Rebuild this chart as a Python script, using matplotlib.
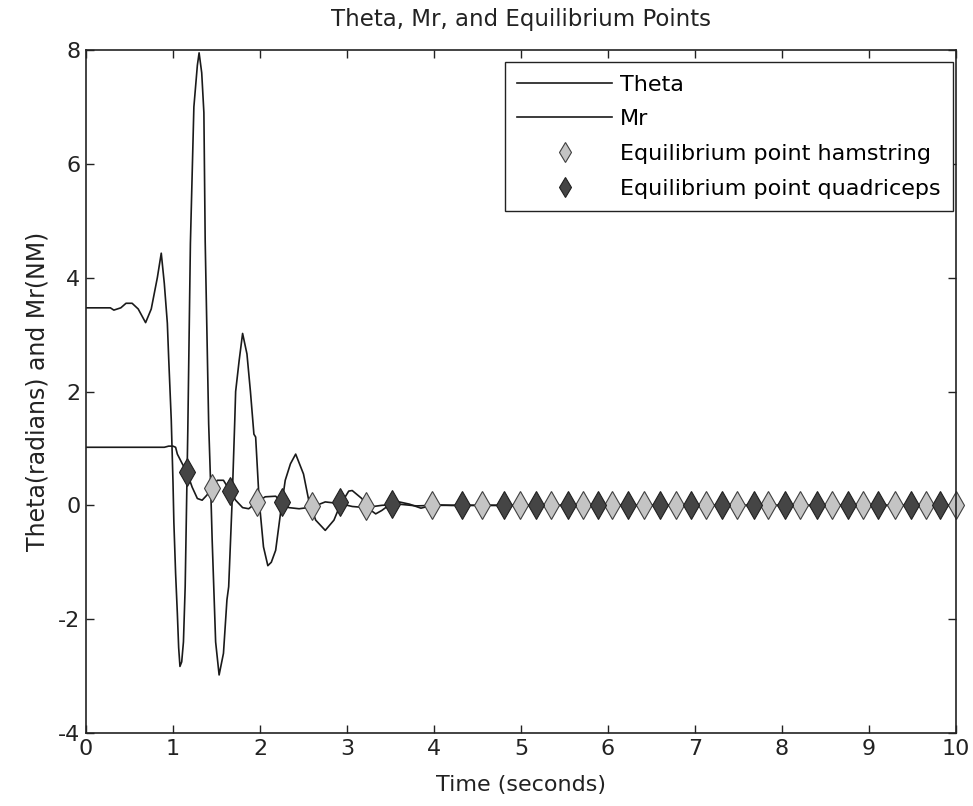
import numpy as np
import matplotlib
matplotlib.use("Agg")
import matplotlib.pyplot as plt

plt.rcParams['font.family'] = ['DejaVu Sans']
plt.rcParams['axes.unicode_minus'] = False

# Theta (radians)
thetaTime = [0, 0.90, 0.95, 1.00, 1.03, 1.05, 1.10, 1.16, 1.22, 1.28, 1.335, 1.39, 1.45,
             1.51, 1.58, 1.64, 1.72, 1.80, 1.87, 1.97, 2.06, 2.18, 2.25, 2.33, 2.45,
             2.60, 2.75, 2.92, 3.06, 3.21, 3.40, 3.60, 3.80, 4.00, 4.50, 10.0]
thetaVals = [1.02, 1.02, 1.04, 1.04, 1.02, 0.90, 0.75, 0.58, 0.32, 0.12, 0.09, 0.18, 0.32,
             0.44, 0.44, 0.29, 0.09, -0.04, -0.06, 0.06, 0.15, 0.16, 0.06, -0.04, -0.06,
             -0.03, 0.06, 0.03, -0.02, -0.04, 0.00, 0.02, -0.01, 0.00, 0.00, 0.00]

# Mr (NM)
mrTime = [0, 0.28, 0.32, 0.40, 0.46, 0.53, 0.60, 0.685, 0.75, 0.82, 0.865, 0.90, 0.935,
          0.95, 0.98, 1.00, 1.01, 1.03, 1.05, 1.065, 1.08, 1.10, 1.12, 1.14, 1.17, 1.20,
          1.24, 1.28, 1.30, 1.33, 1.355, 1.37, 1.41, 1.43, 1.45, 1.49, 1.53, 1.58, 1.62,
          1.64, 1.68, 1.71, 1.72, 1.76, 1.80, 1.85, 1.89, 1.93, 1.95, 1.99, 2.04, 2.09,
          2.13, 2.18, 2.24, 2.29, 2.35, 2.41, 2.50, 2.56, 2.64, 2.75, 2.85, 2.92, 3.02,
          3.06, 3.17, 3.25, 3.33, 3.40, 3.48, 3.60, 3.72, 3.85, 4.00, 4.20, 10.0]
mrVals = [3.47, 3.47, 3.43, 3.47, 3.55, 3.55, 3.45, 3.21, 3.45, 4.00, 4.43, 3.90, 3.20,
          2.60, 1.50, 0.40, -0.30, -1.20, -1.90, -2.50, -2.83, -2.75, -2.40, -1.43, 1.30, 4.60,
          7.00, 7.73, 7.95, 7.60, 6.90, 4.64, 1.43, 0.49, -0.60, -2.40, -2.98, -2.60, -1.66,
          -1.43, 0.09, 1.49, 2.00, 2.54, 3.02, 2.66, 2.00, 1.25, 1.20, 0.09, -0.73, -1.06,
          -1.00, -0.79, -0.09, 0.44, 0.73, 0.90, 0.55, 0.09, -0.26, -0.44, -0.26, 0.00, 0.25,
          0.26, 0.12, -0.06, -0.15, -0.09, 0.00, 0.06, 0.02, -0.05, 0.01, 0.00, 0.00]

# equilibrium points
hamTime = [1.45, 1.97, 2.60, 3.22, 3.98, 4.55, 4.99, 5.35, 5.71, 6.05, 6.41, 6.78, 7.13,
           7.48, 7.84, 8.21, 8.57, 8.93, 9.30, 9.66, 10.0]
hamVals = [0.30, 0.05, -0.01, -0.02, 0.0, 0.0, 0.0, 0.0, 0.0, 0.0, 0.0, 0.0, 0.0,
           0.0, 0.0, 0.0, 0.0, 0.0, 0.0, 0.0, 0.0]
quadTime = [1.16, 1.66, 2.25, 2.92, 3.52, 4.32, 4.81, 5.17, 5.54, 5.88, 6.23, 6.60, 6.95,
            7.31, 7.68, 8.03, 8.40, 8.76, 9.10, 9.48, 9.82]
quadVals = [0.58, 0.26, 0.05, 0.06, 0.03, 0.0, 0.0, 0.0, 0.0, 0.0, 0.0, 0.0, 0.0,
            0.0, 0.0, 0.0, 0.0, 0.0, 0.0, 0.0, 0.0]

xTicks = [0, 1, 2, 3, 4, 5, 6, 7, 8, 9, 10]
yTicks = [-4, -2, 0, 2, 4, 6, 8]

fig = plt.figure(figsize=(9.73, 8.06), dpi=100)
ax = fig.add_axes([86 / 973, 73 / 806, 870 / 973, 683 / 806])

ax.plot(thetaTime, thetaVals, color='#1a1a1a', lw=1.2, label='Theta')
ax.plot(mrTime, mrVals, color='#1a1a1a', lw=1.2, label='Mr')
ax.plot(hamTime, hamVals, ls='none', marker='d', ms=14, mfc='#c4c4c4', mec='#404040',
        mew=0.8, label='Equilibrium point hamstring', clip_on=False)
ax.plot(quadTime, quadVals, ls='none', marker='d', ms=14, mfc='#454545', mec='#202020',
        mew=0.8, label='Equilibrium point quadriceps', clip_on=False)

ax.set_xlim(0, 10)
ax.set_ylim(-4, 8)
ax.set_xticks(xTicks)
ax.set_yticks(yTicks)
ax.tick_params(direction='in', top=True, right=True, length=6, width=1, labelsize=16,
               colors='#222222', pad=4)
for s in ax.spines.values():
    s.set_linewidth(1.2)
    s.set_color('#222222')

ax.set_title('Theta, Mr, and Equilibrium Points', fontsize=16.5, pad=17, color='#222222')
ax.set_xlabel('Time (seconds)', fontsize=16, labelpad=12, color='#222222')
ax.set_ylabel('Theta(radians) and Mr(NM)', fontsize=17, labelpad=6, color='#222222')

leg = ax.legend(loc='upper right', bbox_to_anchor=(0.9966, 0.982), borderaxespad=0,
                fontsize=16, handlelength=4.3, handletextpad=0.35, labelspacing=0.66,
                borderpad=0.55, fancybox=False, framealpha=1, edgecolor='#222222',
                markerscale=0.75)
leg.get_frame().set_linewidth(1.0)

fig.savefig('out.png', dpi=100)
